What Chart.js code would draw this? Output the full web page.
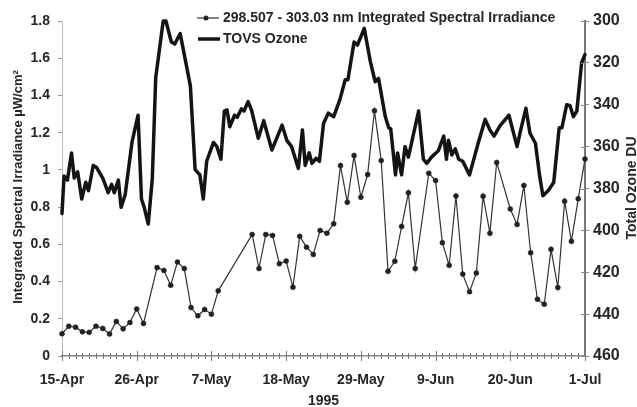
<!DOCTYPE html>
<html>
<head>
<meta charset="utf-8">
<script src="https://cdn.jsdelivr.net/npm/chart.js@4"></script>
<style>
  html, body { margin: 0; padding: 0; background: #fff; }
  #wrap { width: 637px; height: 407px; }
</style>
</head>
<body>
<div id="wrap"><canvas id="chart" width="637" height="407"></canvas></div>
<script>
// x axis: days after 15-Apr-1995
const tickLabels = ['15-Apr', '26-Apr', '7-May', '18-May', '29-May', '9-Jun', '20-Jun', '1-Jul'];

const irrDays = [0, 1, 2, 3, 4, 5, 6, 7, 8, 9, 10, 11, 12, 14, 15, 16, 17, 18, 19, 20, 21, 22, 23,
  28, 29, 30, 31, 32, 33, 34, 35, 36, 37, 38, 39, 40, 41, 42, 43, 44, 45, 46, 47, 48, 49, 50, 51, 52,
  54, 55, 56, 57, 58, 59, 60, 61, 62, 63, 64, 66, 67, 68, 69, 70, 71, 72, 73, 74, 75, 76, 77];
const irrValues = [0.12, 0.16, 0.155, 0.13, 0.127, 0.16, 0.148, 0.118, 0.186, 0.146, 0.18, 0.253, 0.175,
  0.475, 0.46, 0.38, 0.505, 0.47, 0.26, 0.216, 0.25, 0.225, 0.35,
  0.653, 0.47, 0.653, 0.648, 0.496, 0.51, 0.37, 0.643, 0.585, 0.546, 0.675, 0.66, 0.71, 1.023, 0.826,
  1.077, 0.853, 0.975, 1.318, 1.05, 0.455, 0.509, 0.696, 0.877, 0.47,
  0.982, 0.943, 0.609, 0.487, 0.86, 0.44, 0.345, 0.446, 0.859, 0.66, 1.04,
  0.79, 0.707, 0.916, 0.555, 0.305, 0.278, 0.573, 0.368, 0.832, 0.616, 0.845, 1.059];

const ozoneDays = [0, 0.3, 0.8, 1.4, 1.8, 2.3, 2.9, 3.5, 3.9, 4.6, 5.1, 6.0, 6.8, 7.3, 7.7, 8.3, 8.7, 9.3,
  10.3, 11.2, 11.7, 12.1, 12.7, 13.3, 13.8, 14.9, 15.3, 16.1, 16.6, 17.4, 18.9, 19.6, 20.3, 20.8, 21.3,
  22.3, 22.8, 23.4, 23.9, 24.3, 24.7, 25.4, 25.8, 26.4, 26.8, 27.4, 27.9, 28.9, 29.7, 30.9, 32.4, 33.1,
  33.8, 34.8, 35.4, 35.8, 36.4, 36.8, 37.4, 37.9, 38.5, 39.2, 40.0, 40.9, 41.7, 42.1, 43.0, 43.5, 44.5,
  45.4, 46.1, 46.6, 47.6, 48.1, 48.4, 49.1, 49.4, 50.0, 50.5, 51.0, 52.5, 53.2, 53.7, 54.4, 55.4, 56.2,
  56.6, 56.9, 57.4, 57.9, 58.4, 59.0, 60.0, 61.3, 62.3, 63.0, 63.6, 64.5, 65.8, 67.0, 67.5, 68.3, 68.9,
  69.7, 70.3, 70.8, 71.6, 72.4, 73.2, 73.6, 74.3, 74.8, 75.3, 75.8, 76.5, 77.0];
const ozoneValues = [392, 374, 376, 363, 375, 372, 385, 377, 381, 369, 370, 375, 382, 378, 382, 376, 389, 383,
  358, 345, 385, 389, 397, 375, 327, 300, 300, 310, 311, 306, 331, 371, 373.5, 385, 367,
  358, 360, 366, 343, 342.5, 350.5, 345, 346, 342, 343, 338.5, 342.5, 356, 347.6, 361.6, 349.7, 357,
  360, 370.4, 352, 369, 363, 368, 365.6, 367, 349, 344, 345.7, 337.7, 328, 328, 310, 311.5, 303.5,
  319.4, 329, 327.4, 345.7, 351, 351.5, 373.5, 363, 373.5, 360, 365, 343, 366, 368, 365, 362, 355,
  366, 357, 364, 361, 366, 367, 373.5, 358, 347, 352, 355, 350, 345, 360, 352.5, 341.7, 353.6,
  358.4, 373.5, 383.5, 381, 377, 351, 351, 340, 340.5, 345.7, 343, 320, 316];

const FONT = '"Liberation Sans", Arial, sans-serif';
const INK = '#262626';

const extras = {
  id: 'extras',
  afterDraw(chart) {
    const { ctx, chartArea, scales } = chart;
    const ds = chart.data.datasets;
    ctx.save();

    // daily tick marks crossing the x axis
    ctx.strokeStyle = '#777';
    ctx.lineWidth = 1;
    for (let d = 0; d <= 77; d++) {
      const x = Math.round(scales.x.getPixelForValue(d)) + 0.5;
      const h = d % 11 === 0 ? 5 : 3;
      ctx.beginPath();
      ctx.moveTo(x, chartArea.bottom - h);
      ctx.lineTo(x, chartArea.bottom + h);
      ctx.stroke();
    }

    // tick marks crossing the right axis
    ctx.strokeStyle = '#888';
    for (let v = 300; v <= 460; v += 20) {
      const y = Math.round(scales.y2.getPixelForValue(v)) + 0.5;
      ctx.beginPath();
      ctx.moveTo(chartArea.right - 4, y);
      ctx.lineTo(chartArea.right, y);
      ctx.stroke();
    }

    // legend inside the plot
    ctx.font = 'bold 14px ' + FONT;
    ctx.fillStyle = INK;
    ctx.textBaseline = 'middle';
    ctx.textAlign = 'left';
    ctx.strokeStyle = ds[0].borderColor;
    ctx.lineWidth = 1.2;
    ctx.beginPath(); ctx.moveTo(197, 18); ctx.lineTo(219, 18); ctx.stroke();
    ctx.beginPath(); ctx.arc(206, 18, 2.5, 0, Math.PI * 2); ctx.fillStyle = ds[0].pointBackgroundColor; ctx.fill();
    ctx.fillStyle = INK;
    ctx.fillText(ds[0].label, 223, 18);
    ctx.strokeStyle = ds[1].borderColor;
    ctx.lineWidth = 3.5;
    ctx.beginPath(); ctx.moveTo(198, 39); ctx.lineTo(220, 39); ctx.stroke();
    ctx.fillText(ds[1].label, 223, 39);

    // axis titles
    ctx.textAlign = 'center';
    ctx.fillText('1995', (chartArea.left + chartArea.right) / 2, 401);
    ctx.save();
    ctx.font = 'bold 13px ' + FONT;
    ctx.translate(18, 187);
    ctx.rotate(-Math.PI / 2);
    ctx.fillText('Integrated Spectral Irradiance µW/cm²', 0, 0);
    ctx.restore();
    ctx.save();
    ctx.translate(632, 188);
    ctx.rotate(-Math.PI / 2);
    ctx.fillText('Total Ozone DU', 0, 0);
    ctx.restore();

    ctx.restore();
  }
};

new Chart(document.getElementById('chart'), {
  type: 'line',
  data: {
    datasets: [
      {
        label: '298.507 - 303.03 nm Integrated Spectral Irradiance',
        data: irrDays.map((d, i) => ({ x: d, y: irrValues[i] })),
        yAxisID: 'y',
        borderColor: '#333',
        borderWidth: 1.2,
        pointRadius: 2.5,
        pointBackgroundColor: '#222',
        pointBorderColor: '#222',
        pointBorderWidth: 0.5,
        tension: 0,
        clip: false
      },
      {
        label: 'TOVS Ozone',
        data: ozoneDays.map((d, i) => ({ x: d, y: ozoneValues[i] })),
        yAxisID: 'y2',
        borderColor: '#141414',
        borderWidth: 3.5,
        borderJoinStyle: 'round',
        borderCapStyle: 'round',
        pointRadius: 0,
        tension: 0,
        clip: false
      }
    ]
  },
  options: {
    responsive: false,
    animation: false,
    layout: { padding: { top: 21, left: 0, right: 0, bottom: 0 } },
    plugins: { legend: { display: false }, tooltip: { enabled: false } },
    scales: {
      x: {
        type: 'linear',
        min: 0,
        max: 77,
        afterFit: s => { s.height = 51; },
        grid: { display: false, drawTicks: false },
        border: { display: true, color: '#888', width: 1.5 },
        ticks: {
          stepSize: 11,
          autoSkip: false,
          maxRotation: 0,
          padding: 16,
          color: INK,
          font: { family: FONT, size: 14, weight: 'bold' },
          callback: v => tickLabels[v / 11] ?? ''
        }
      },
      y: {
        position: 'left',
        min: 0,
        max: 1.8,
        afterFit: s => { s.width = 62; },
        grid: { drawOnChartArea: false, tickLength: 4, color: '#999' },
        border: { display: true, color: '#bbb', width: 1 },
        ticks: {
          stepSize: 0.2,
          padding: 8,
          color: INK,
          font: { family: FONT, size: 14, weight: 'bold' },
          callback: v => String(+v.toFixed(1))
        }
      },
      y2: {
        position: 'right',
        min: 300,
        max: 460,
        reverse: true,
        afterFit: s => { s.width = 52; },
        grid: { drawOnChartArea: false, tickLength: 4, color: '#888' },
        border: { display: true, color: '#777', width: 2 },
        ticks: {
          stepSize: 20,
          padding: 4,
          color: INK,
          font: { family: FONT, size: 16, weight: 'bold' }
        }
      }
    }
  },
  plugins: [extras]
});
</script>
</body>
</html>
